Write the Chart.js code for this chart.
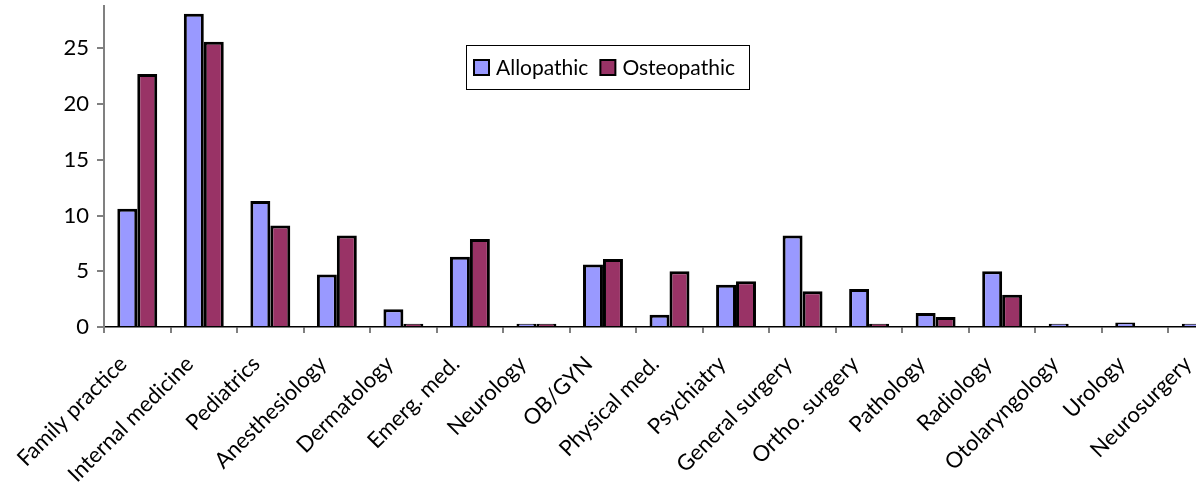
<!DOCTYPE html>
<html>
<head>
<meta charset="utf-8">
<script src="https://cdn.jsdelivr.net/npm/chart.js@4.4.1/dist/chart.umd.min.js"></script>
<style>
  html, body { margin: 0; padding: 0; background: #fff; overflow: hidden; }
  body { width: 1196px; height: 484px; }
  #wrap { width: 1242px; height: 484px; }
</style>
</head>
<body>
<div id="wrap"><canvas id="chart" width="1242" height="484"></canvas></div>
<script>
// Specialty choices, percent of graduates
const categories = [
  'Family practice', 'Internal medicine', 'Pediatrics', 'Anesthesiology',
  'Dermatology', 'Emerg. med.', 'Neurology', 'OB/GYN', 'Physical med.',
  'Psychiatry', 'General surgery', 'Ortho. surgery', 'Pathology',
  'Radiology', 'Otolaryngology', 'Urology', 'Neurosurgery'
];
const allopathic  = [10.6, 28.1, 11.3, 4.7, 1.6, 6.3, 0.3, 5.6, 1.1, 3.8, 8.2, 3.4, 1.25, 5.0, 0.3, 0.4, 0.3];
const osteopathic = [22.7, 25.6, 9.1, 8.2, 0.3, 7.9, 0.3, 6.1, 5.0, 4.1, 3.2, 0.3, 0.9, 2.9, 0, 0, 0];
const yTicks = [0, 5, 10, 15, 20, 25];

const FONT = 'Lato, "Open Sans", sans-serif';

// Boxed legend drawn inside the plot area
const boxedLegend = {
  id: 'boxedLegend',
  afterDraw(chart) {
    const ctx = chart.ctx;
    const left = 466, top = 45, width = 283, height = 44;
    ctx.save();
    ctx.fillStyle = '#fff';
    ctx.fillRect(left, top, width, height);
    ctx.strokeStyle = '#000';
    ctx.lineWidth = 1;
    ctx.strokeRect(left + 0.5, top + 0.5, width, height);
    ctx.font = '21px ' + FONT;
    ctx.textBaseline = 'middle';
    let x = left + 8;
    const cy = top + height / 2;
    chart.data.datasets.forEach(ds => {
      ctx.fillStyle = ds.backgroundColor;
      ctx.fillRect(x, cy - 7, 15, 15);
      ctx.strokeStyle = '#000';
      ctx.lineWidth = 2;
      ctx.strokeRect(x, cy - 7, 15, 15);
      ctx.fillStyle = '#000';
      ctx.fillText(ds.label, x + 22, cy + 1);
      x += 22 + ctx.measureText(ds.label).width + 12;
    });
    ctx.restore();
  }
};

new Chart(document.getElementById('chart'), {
  type: 'bar',
  data: {
    labels: categories,
    datasets: [
      { label: 'Allopathic', data: allopathic, backgroundColor: '#9999ff',
        borderColor: '#000', borderWidth: 3, borderSkipped: 'bottom' },
      { label: 'Osteopathic', data: osteopathic, backgroundColor: '#993366',
        borderColor: '#000', borderWidth: 3, borderSkipped: 'bottom' }
    ]
  },
  options: {
    responsive: false,
    animation: false,
    layout: { padding: { top: 6, right: 7, left: 0, bottom: 0 } },
    datasets: { bar: { categoryPercentage: 0.6, barPercentage: 1.0 } },
    plugins: { legend: { display: false }, tooltip: { enabled: false } },
    scales: {
      x: {
        offset: true,
        grid: { offset: true, drawOnChartArea: false, drawTicks: true, tickLength: 6, color: '#808080', lineWidth: 2 },
        border: { color: '#000', width: 1.5 },
        ticks: {
          autoSkip: false, minRotation: 45, maxRotation: 45,
          color: '#000', font: { family: FONT, size: 22 }, padding: 18, labelOffset: -14
        },
        afterFit(scale) { scale.height = 157; }
      },
      y: {
        min: 0, max: 28.8,
        grid: { drawOnChartArea: false, drawTicks: true, tickLength: 7, color: '#808080', lineWidth: 2 },
        border: { color: '#808080', width: 2 },
        ticks: { stepSize: 5, color: '#000', font: { family: FONT, size: 22 }, padding: 8 },
        afterBuildTicks(scale) {
          scale.ticks = yTicks.map(v => ({ value: v }));
        },
        afterFit(scale) {
          scale.width = 104;
          scale.paddingTop = 0;
          scale.paddingBottom = 0;
        }
      }
    }
  },
  plugins: [boxedLegend]
});
</script>
</body>
</html>
